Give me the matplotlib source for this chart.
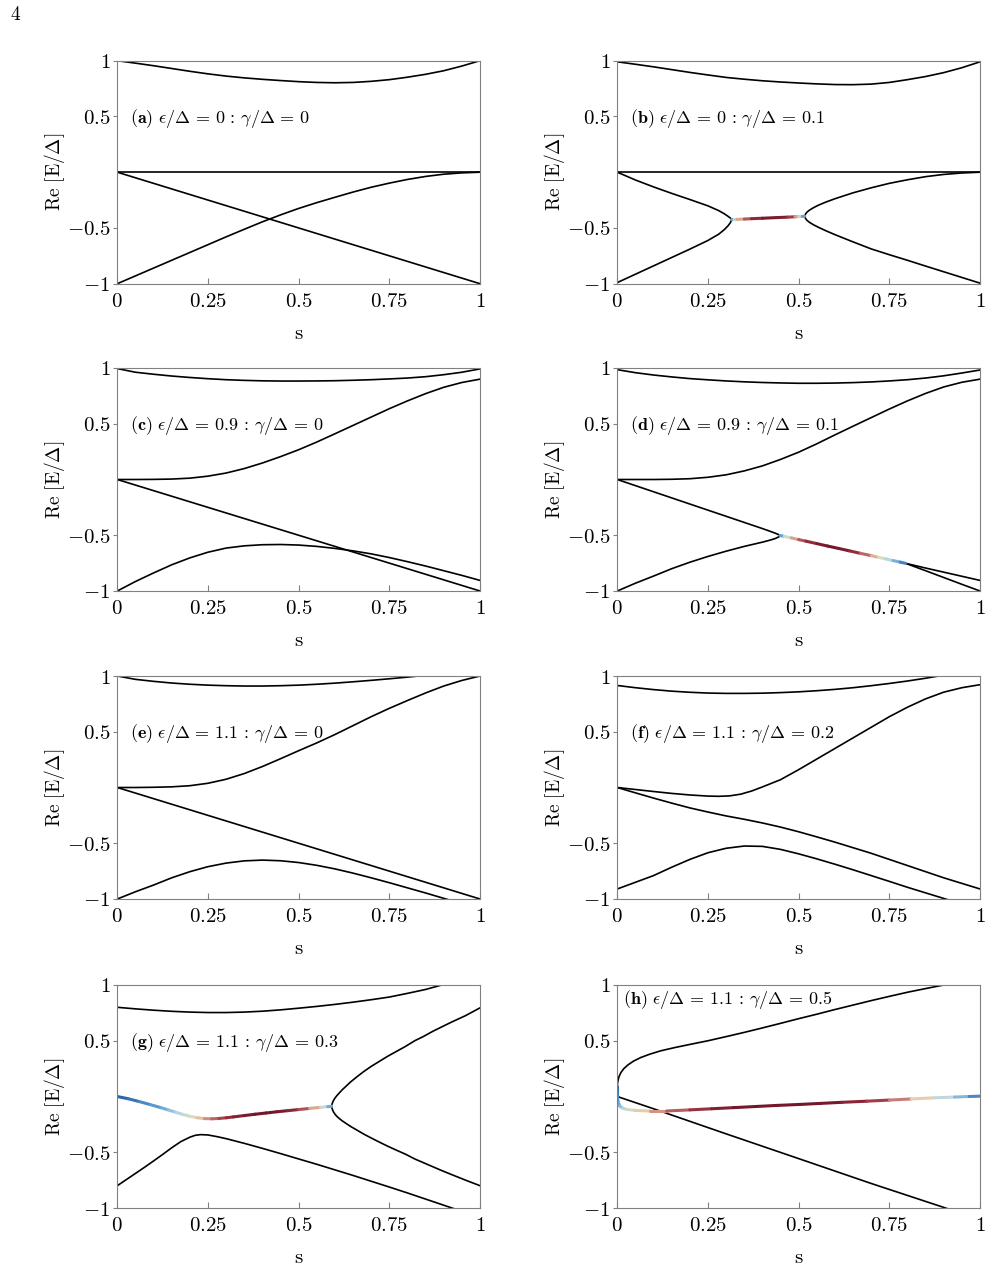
import matplotlib.pyplot as plt
import numpy as np
from matplotlib.collections import LineCollection
from matplotlib.colors import LinearSegmentedColormap

plt.rcParams['mathtext.fontset'] = 'cm'
plt.rcParams['font.family'] = 'serif'

s21 = [0, 0.05, 0.1, 0.15, 0.2, 0.25, 0.3, 0.35, 0.4, 0.45, 0.5, 0.55, 0.6, 0.65, 0.7, 0.75,
       0.8, 0.85, 0.9, 0.95, 1]

# ---------------- panel (a)  eps=0, gamma=0
a_top_y = [1.0, 0.978, 0.955, 0.93, 0.905, 0.882, 0.862, 0.846, 0.833, 0.822, 0.812, 0.805,
           0.802, 0.805, 0.815, 0.83, 0.852, 0.878, 0.91, 0.952, 1.0]
a_zero_s = [0, 1]
a_zero_y = [0, 0]
a_diag_s = [0, 1]
a_diag_y = [0, -1]
a_low_y = [-1, -0.93, -0.86, -0.79, -0.72, -0.65, -0.58, -0.512, -0.445, -0.383, -0.325, -0.273,
           -0.225, -0.178, -0.135, -0.098, -0.065, -0.038, -0.018, -0.006, 0]

# ---------------- panel (b)  eps=0, gamma=0.1
b_top_y = [0.99, 0.968, 0.945, 0.92, 0.895, 0.872, 0.85, 0.834, 0.82, 0.809, 0.80, 0.792, 0.786,
           0.785, 0.79, 0.805, 0.83, 0.858, 0.893, 0.937, 0.99]
b_zero_s = [0, 1]
b_zero_y = [0, 0]
b_left_s = [0, 0.05, 0.1, 0.15, 0.2, 0.25, 0.28, 0.295, 0.305, 0.312, 0.315]
b_ul_y = [0, -0.07, -0.132, -0.19, -0.245, -0.302, -0.345, -0.373, -0.395, -0.412, -0.425]
b_ll_y = [-0.99, -0.915, -0.84, -0.765, -0.69, -0.612, -0.555, -0.515, -0.482, -0.452, -0.425]
b_ep_s = [0.315, 0.322, 0.33, 0.35, 0.37, 0.40, 0.44, 0.47, 0.49, 0.50, 0.51, 0.517]
b_ep_y = [-0.425, -0.424, -0.423, -0.42, -0.417, -0.413, -0.407, -0.403, -0.400, -0.398, -0.397, -0.395]
b_ep_c = [0.05, 0.3, 0.5, 0.7, 0.85, 0.97, 1.0, 0.92, 0.75, 0.5, 0.3, 0.05]
b_right_s = [0.517, 0.519, 0.523, 0.53, 0.54, 0.555, 0.575, 0.6, 0.65, 0.7, 0.75, 0.8, 0.85,
             0.9, 0.95, 1]
b_ur_y = [-0.395, -0.375, -0.358, -0.34, -0.32, -0.295, -0.268, -0.238, -0.185, -0.14, -0.1,
          -0.068, -0.04, -0.02, -0.007, 0]
b_lr_y = [-0.395, -0.415, -0.432, -0.45, -0.47, -0.495, -0.525, -0.56, -0.625, -0.688, -0.74,
          -0.79, -0.842, -0.893, -0.944, -0.995]

# ---------------- panel (c)  eps=0.9, gamma=0
c_top_y = [0.995, 0.962, 0.944, 0.928, 0.915, 0.904, 0.895, 0.889, 0.885, 0.883, 0.883, 0.884,
           0.886, 0.89, 0.895, 0.902, 0.91, 0.922, 0.94, 0.962, 0.992]
c_mid_y = [0, 0.0, 0.001, 0.004, 0.012, 0.03, 0.058, 0.098, 0.148, 0.205, 0.267, 0.336, 0.41,
           0.485, 0.56, 0.635, 0.705, 0.77, 0.827, 0.87, 0.9]
c_diag_s = [0, 1]
c_diag_y = [0, -1]
c_low_y = [-1, -0.915, -0.838, -0.765, -0.703, -0.652, -0.615, -0.595, -0.585, -0.583, -0.588,
           -0.6, -0.618, -0.64, -0.667, -0.7, -0.737, -0.776, -0.818, -0.86, -0.905]

# ---------------- panel (d)  eps=0.9, gamma=0.1
d_top_y = [0.985, 0.958, 0.937, 0.92, 0.905, 0.894, 0.884, 0.876, 0.87, 0.866, 0.863, 0.863,
           0.865, 0.869, 0.875, 0.884, 0.895, 0.91, 0.93, 0.955, 0.982]
d_mid_y = [0, 0.0, 0.0, 0.002, 0.007, 0.02, 0.042, 0.077, 0.122, 0.18, 0.245, 0.32, 0.4, 0.478,
           0.555, 0.632, 0.705, 0.772, 0.83, 0.872, 0.9]
d_left_s = [0, 0.05, 0.1, 0.15, 0.2, 0.25, 0.3, 0.35, 0.4, 0.42, 0.435, 0.445, 0.449]
d_ul_y = [0, -0.055, -0.11, -0.165, -0.22, -0.275, -0.33, -0.385, -0.44, -0.463, -0.481, -0.495, -0.502]
d_ll_y = [-1, -0.93, -0.866, -0.8, -0.742, -0.69, -0.643, -0.6, -0.562, -0.545, -0.53, -0.515, -0.505]
d_ep_s = [0.449, 0.46, 0.48, 0.5, 0.52, 0.55, 0.58, 0.61, 0.64, 0.67, 0.7, 0.72, 0.74, 0.76, 0.78, 0.795]
d_ep_y = [-0.502, -0.51, -0.524, -0.539, -0.553, -0.575, -0.597, -0.618, -0.64, -0.662, -0.683,
          -0.698, -0.712, -0.727, -0.741, -0.752]
d_ep_c = [0.05, 0.3, 0.52, 0.7, 0.85, 0.95, 1.0, 1.0, 0.95, 0.82, 0.65, 0.52, 0.4, 0.28, 0.15, 0.05]
d_right_s = [0.795, 0.82, 0.85, 0.9, 0.95, 1]
d_ur_y = [-0.752, -0.771, -0.794, -0.831, -0.868, -0.905]
d_lr_y = [-0.752, -0.782, -0.818, -0.879, -0.94, -1.0]

# ---------------- panel (e)  eps=1.1, gamma=0
e_top_y = [1.0, 0.97, 0.952, 0.937, 0.926, 0.918, 0.913, 0.91, 0.91, 0.913, 0.918, 0.926, 0.936,
           0.948, 0.961, 0.975, 0.99, 1.007, 1.025, 1.045, 1.065]
e_mid_y = [0, 0.0, 0.002, 0.006, 0.016, 0.038, 0.074, 0.125, 0.188, 0.258, 0.33, 0.4, 0.475,
           0.555, 0.635, 0.71, 0.78, 0.848, 0.91, 0.96, 1.0]
e_diag_s = [0, 1]
e_diag_y = [0, -1]
e_low_y = [-1, -0.935, -0.875, -0.81, -0.755, -0.71, -0.678, -0.658, -0.651, -0.657, -0.673,
           -0.698, -0.73, -0.768, -0.81, -0.854, -0.9, -0.946, -0.994, -1.042, -1.09]

# ---------------- panel (f)  eps=1.1, gamma=0.2
f_top_y = [0.915, 0.895, 0.878, 0.864, 0.854, 0.847, 0.844, 0.844, 0.846, 0.851, 0.858, 0.868,
           0.88, 0.895, 0.913, 0.933, 0.955, 0.98, 1.008, 1.04, 1.07]
f_mid_s = [0, 0.05, 0.1, 0.15, 0.2, 0.25, 0.28, 0.31, 0.34, 0.37, 0.4, 0.45, 0.5, 0.55, 0.6,
           0.65, 0.7, 0.75, 0.8, 0.85, 0.9, 0.95, 1]
f_mid_y = [0, -0.018, -0.036, -0.053, -0.067, -0.077, -0.079, -0.075, -0.06, -0.032, 0.005,
           0.07, 0.16, 0.255, 0.35, 0.445, 0.54, 0.635, 0.72, 0.795, 0.855, 0.895, 0.922]
f_dn_y = [0, -0.048, -0.095, -0.14, -0.183, -0.22, -0.255, -0.285, -0.318, -0.355, -0.397,
          -0.443, -0.49, -0.54, -0.59, -0.645, -0.7, -0.755, -0.81, -0.86, -0.91]
f_low_y = [-0.91, -0.85, -0.79, -0.715, -0.645, -0.585, -0.545, -0.525, -0.528, -0.555, -0.595,
           -0.64, -0.688, -0.738, -0.79, -0.842, -0.895, -0.945, -0.995, -1.045, -1.095]

# ---------------- panel (g)  eps=1.1, gamma=0.3
g_top_y = [0.80, 0.786, 0.774, 0.764, 0.757, 0.753, 0.753, 0.757, 0.765, 0.777, 0.792, 0.808,
           0.826, 0.846, 0.868, 0.892, 0.925, 0.96, 1.005, 1.05, 1.1]
g_ep_s = [0, 0.03, 0.06, 0.09, 0.12, 0.14, 0.16, 0.18, 0.2, 0.22, 0.24, 0.26, 0.28, 0.3, 0.32,
          0.35, 0.38, 0.41, 0.44, 0.47, 0.5, 0.53, 0.56, 0.58, 0.591]
g_ep_y = [0, -0.02, -0.045, -0.072, -0.1, -0.12, -0.14, -0.16, -0.177, -0.19, -0.198, -0.2,
          -0.197, -0.191, -0.183, -0.171, -0.159, -0.148, -0.137, -0.127, -0.117, -0.107, -0.097,
          -0.091, -0.087]
g_ep_c = [0.0, 0.04, 0.09, 0.13, 0.17, 0.23, 0.3, 0.36, 0.43, 0.5, 0.6, 0.7, 0.78, 0.86, 0.92,
          0.97, 1.0, 1.0, 1.0, 0.96, 0.87, 0.7, 0.5, 0.3, 0.1]
g_right_s = [0.591, 0.592, 0.594, 0.597, 0.601, 0.606, 0.613, 0.62, 0.63, 0.643, 0.66, 0.68,
             0.7, 0.72, 0.745, 0.77, 0.795, 0.82, 0.845, 0.87, 0.895, 0.92, 0.94, 0.96, 0.98, 1.0]
g_ur_y = [-0.087, -0.068, -0.05, -0.03, -0.01, 0.01, 0.035, 0.06, 0.09, 0.13, 0.175, 0.225,
          0.27, 0.31, 0.36, 0.405, 0.45, 0.5, 0.54, 0.585, 0.625, 0.665, 0.695, 0.725, 0.76, 0.795]
g_lr_y = [-0.087, -0.106, -0.124, -0.143, -0.162, -0.18, -0.2, -0.218, -0.24, -0.268, -0.3,
          -0.338, -0.372, -0.405, -0.445, -0.482, -0.518, -0.56, -0.595, -0.63, -0.665, -0.698,
          -0.724, -0.75, -0.775, -0.8]
g_low_s = [0, 0.025, 0.05, 0.075, 0.1, 0.125, 0.15, 0.175, 0.2, 0.215, 0.23, 0.25, 0.275, 0.3,
           0.35, 0.4, 0.45, 0.5, 0.55, 0.6, 0.65, 0.7, 0.75, 0.8, 0.85, 0.9, 0.95]
g_low_y = [-0.8, -0.745, -0.69, -0.635, -0.578, -0.52, -0.46, -0.405, -0.365, -0.348, -0.342,
           -0.345, -0.36, -0.378, -0.42, -0.465, -0.512, -0.56, -0.608, -0.658, -0.708, -0.76,
           -0.812, -0.865, -0.92, -0.975, -1.03]

# ---------------- panel (h)  eps=1.1, gamma=0.5
h_top_s = [0, 0.0005, 0.002, 0.005, 0.01, 0.018, 0.03, 0.045, 0.065, 0.09, 0.12, 0.16, 0.2,
           0.25, 0.3, 0.35, 0.4, 0.45, 0.5, 0.55, 0.6, 0.65, 0.7, 0.75, 0.8, 0.85, 0.9, 0.95]
h_top_y = [0.09, 0.115, 0.145, 0.18, 0.215, 0.25, 0.285, 0.318, 0.35, 0.38, 0.41, 0.44, 0.467,
           0.5, 0.537, 0.575, 0.615, 0.656, 0.698, 0.738, 0.78, 0.82, 0.86, 0.898, 0.935, 0.968,
           1.0, 1.035]
h_ep_s = [0, 0, 0, 0.002, 0.007, 0.015, 0.026, 0.05, 0.09, 0.136, 0.2, 0.26, 0.32, 0.38, 0.44,
          0.504, 0.56, 0.62, 0.688, 0.75, 0.81, 0.872, 0.93, 0.97, 1.0]
h_ep_y = [0.09, 0.05, 0.0, -0.05, -0.087, -0.105, -0.116, -0.125, -0.13, -0.13, -0.12, -0.11,
          -0.10, -0.09, -0.08, -0.071, -0.062, -0.052, -0.042, -0.032, -0.022, -0.012, -0.005,
          0.0, 0.003]
h_ep_c = [0.0, 0.05, 0.1, 0.15, 0.22, 0.3, 0.38, 0.48, 0.58, 0.7, 0.82, 0.92, 0.98, 1.0, 1.0,
          1.0, 1.0, 0.97, 0.88, 0.78, 0.6, 0.45, 0.3, 0.17, 0.05]
h_dn_s = [0, 0.1, 0.3, 0.5, 0.7, 0.905, 0.95]
h_dn_y = [0, -0.11, -0.335, -0.557, -0.78, -1.0, -1.05]

eps_vals = ['0', '0', '0.9', '0.9', '1.1', '1.1', '1.1', '1.1']
gam_vals = ['0', '0.1', '0', '0.1', '0', '0.2', '0.3', '0.5']
tags = ['a', 'b', 'c', 'd', 'e', 'f', 'g', 'h']
label_x = [0.035, 0.035, 0.035, 0.035, 0.035, 0.035, 0.035, 0.016]
label_y = [0.48, 0.48, 0.48, 0.48, 0.48, 0.48, 0.48, 0.87]

black = [
    [(s21, a_top_y), (a_zero_s, a_zero_y), (a_diag_s, a_diag_y), (s21, a_low_y)],
    [(s21, b_top_y), (b_zero_s, b_zero_y), (b_left_s, b_ul_y), (b_left_s, b_ll_y),
     (b_right_s, b_ur_y), (b_right_s, b_lr_y)],
    [(s21, c_top_y), (s21, c_mid_y), (c_diag_s, c_diag_y), (s21, c_low_y)],
    [(s21, d_top_y), (s21, d_mid_y), (d_left_s, d_ul_y), (d_left_s, d_ll_y),
     (d_right_s, d_ur_y), (d_right_s, d_lr_y)],
    [(s21, e_top_y), (s21, e_mid_y), (e_diag_s, e_diag_y), (s21, e_low_y)],
    [(s21, f_top_y), (f_mid_s, f_mid_y), (s21, f_dn_y), (s21, f_low_y)],
    [(s21, g_top_y), (g_right_s, g_ur_y), (g_right_s, g_lr_y), (g_low_s, g_low_y)],
    [(h_top_s, h_top_y), (h_dn_s, h_dn_y)],
]
colored = [[], [(b_ep_s, b_ep_y, b_ep_c)], [], [(d_ep_s, d_ep_y, d_ep_c)], [], [],
           [(g_ep_s, g_ep_y, g_ep_c)], [(h_ep_s, h_ep_y, h_ep_c)]]

cmap = LinearSegmentedColormap.from_list('ep', [
    (0.00, (0.13, 0.36, 0.65)),
    (0.15, (0.35, 0.60, 0.80)),
    (0.32, (0.68, 0.84, 0.90)),
    (0.50, (0.92, 0.86, 0.70)),
    (0.68, (0.80, 0.50, 0.47)),
    (0.85, (0.62, 0.20, 0.26)),
    (1.00, (0.46, 0.09, 0.17)),
])

fig = plt.figure(figsize=(9.89, 12.72), dpi=100)
W, H = 989, 1272
lefts = [117.3, 617.3]
tops = [60.7, 368.0, 676.0, 985.0]
aw, ah = 362.7, 223.0

for k in range(8):
    r, col = k // 2, k % 2
    ax = fig.add_axes([lefts[col] / W, 1 - (tops[r] + ah) / H, aw / W, ah / H])
    for s, y in black[k]:
        ax.plot(s, y, '-k', lw=1.2, solid_capstyle='round', solid_joinstyle='round')
    for s, y, c in colored[k]:
        pts = np.column_stack([s, y])
        segs = np.stack([pts[:-1], pts[1:]], axis=1)
        cc = 0.5 * (np.array(c[:-1]) + np.array(c[1:]))
        lc = LineCollection(segs, cmap=cmap, linewidths=2.2, capstyle='round')
        lc.set_array(cc)
        lc.set_clim(0, 1)
        ax.add_collection(lc)
    ax.set_xlim(0, 1)
    ax.set_ylim(-1, 1)
    ax.set_xticks([0, 0.25, 0.5, 0.75, 1])
    ax.set_xticklabels([r'$0$', r'$0.25$', r'$0.5$', r'$0.75$', r'$1$'])
    ax.set_yticks([-1, -0.5, 0.5, 1])
    ax.set_yticklabels([r'$-1$', r'$-0.5$', r'$0.5$', r'$1$'])
    ax.tick_params(axis='x', direction='in', length=4, color='0.5', labelsize=15, pad=6)
    ax.tick_params(axis='y', direction='out', length=3, color='0.5', labelsize=15, pad=2)
    for sp in ax.spines.values():
        sp.set_color('0.5')
        sp.set_linewidth(0.8)
    ax.set_xlabel(r'$\mathrm{s}$', fontsize=15, labelpad=9)
    ax.set_ylabel(r'$\mathrm{Re}\ [\mathrm{E}/\Delta]$', fontsize=14, labelpad=0)
    lab = (r'$\mathbf{(%s)}\ \epsilon/\Delta\,=\,%s\,:\,\gamma/\Delta\,=\,%s$'
           % (tags[k], eps_vals[k], gam_vals[k]))
    ax.text(label_x[k], label_y[k], lab, fontsize=13, ha='left', va='center',
            transform=ax.transData)

fig.text(10 / W, 1 - 15 / H, r'$4$', fontsize=14, ha='left', va='center')
fig.savefig('out.png', dpi=100)
